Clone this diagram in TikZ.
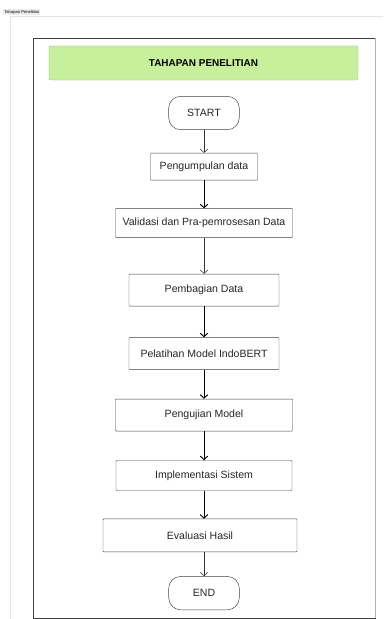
\documentclass[tikz,border=0pt]{standalone}
\usepackage{fontspec}
\setmainfont{Liberation Sans}
\usetikzlibrary{positioning,arrows.meta}
\definecolor{titlegreen}{HTML}{C8EF9C}
\definecolor{titleedge}{HTML}{9FBF86}

\begin{document}
\begin{tikzpicture}[
        x=0.03cm, y=-0.03cm,
        stage/.style={
                rectangle,
                draw=black!75,
                fill=white,
                rounded corners=0.6pt,
                text=black!85,
                font=\fontsize{9}{11}\selectfont
            },
        terminal/.style={stage, rounded corners=0.36cm, minimum width=2.12cm, minimum height=1cm},
        thinflow/.style={-{Straight Barb[length=3pt,width=6.5pt]}, black!80, line width=0.45pt},
        boldflow/.style={-{Straight Barb[length=3pt,width=6.5pt]}, black, line width=0.8pt}
    ]
    \useasboundingbox (0,0) rectangle (383,619);
    % page frame and tab
    \draw[black!10] (383,16) -- (10,16) -- (10,619);
    \node[fill=black!8, inner sep=1pt, anchor=west, font=\fontsize{3.5}{4}\selectfont] (tab) at (3,12) {Tahapan Penelitian};
    \draw[black!75] (33,38) rectangle (375,618);
    \draw[black!30, line width=1pt] (375.5,38) -- (375.5,618);

    \node[fill=titlegreen, draw=titleedge, rounded corners=1pt, minimum width=9.27cm, minimum height=1.02cm, font=\fontsize{8.5}{10}\selectfont\bfseries] (title) at (203.5,63) {TAHAPAN PENELITIAN};

    \node[terminal] (start) at (204,113) {START};
    \node[stage, minimum width=3.21cm, minimum height=0.81cm] (kumpul) [below=0.69cm of start] {Pengumpulan data};
    \node[stage, minimum width=5.31cm, minimum height=0.87cm] (validasi) [below=0.84cm of kumpul] {Validasi dan Pra-pemrosesan Data};
    \node[stage, minimum width=4.5cm, minimum height=0.96cm] (bagi) [below=1.08cm of validasi] {Pembagian Data};
    \node[stage, minimum width=4.5cm, minimum height=0.96cm] (latih) [below=0.93cm of bagi] {Pelatihan Model IndoBERT};
    \node[stage, minimum width=5.31cm, minimum height=0.96cm] (uji) [below=0.87cm of latih] {Pengujian Model};
    \node[stage, minimum width=5.28cm, minimum height=0.9cm] (implementasi) [below=0.87cm of uji] {Implementasi Sistem};
    \node[stage, minimum width=5.82cm, minimum height=0.99cm, xshift=-0.12cm] (evaluasi) [below=0.84cm of implementasi] {Evaluasi Hasil};
    \node[terminal, xshift=0.12cm] (end) [below=0.72cm of evaluasi] {END};

    \draw[thinflow] (start) -- (kumpul);
    \draw[boldflow] (kumpul) -- (validasi);
    \draw[thinflow] (validasi) -- (bagi);
    \draw[boldflow] (bagi) -- (latih);
    \draw[boldflow] (latih) -- (uji);
    \draw[boldflow] (uji) -- (implementasi);
    \draw[boldflow] (implementasi) -- (implementasi.south |- evaluasi.north);
    \draw[thinflow] (evaluasi.south -| end.north) -- (end);
\end{tikzpicture}
\end{document}
